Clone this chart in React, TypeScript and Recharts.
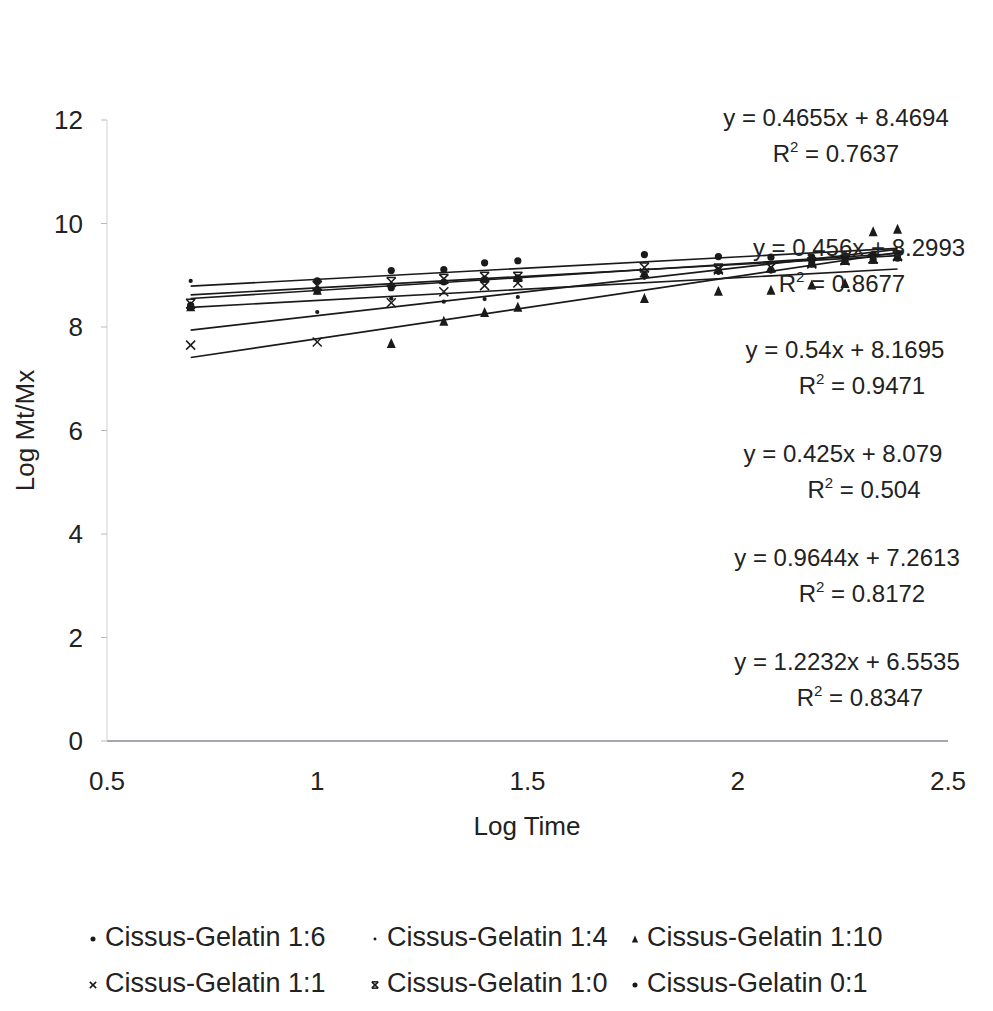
import React from 'react';
import { ScatterChart, Scatter, XAxis, YAxis, Legend } from 'recharts';

// log of sampling times (5 ... 240 min)
const logTime = [0.699, 1.0, 1.176, 1.301, 1.398, 1.477, 1.778, 1.954, 2.079, 2.176, 2.255, 2.322, 2.38];

const cg16 = [8.42, 8.89, 9.09, 9.11, 9.24, 9.28, 9.4, 9.36, 9.35, 9.35, 9.38, 9.4, 9.42];
const cg14 = [8.89, 8.29, 8.55, 8.49, 8.54, 8.58, 8.95, 9.05, 9.12, 9.2, 9.28, 9.3, 9.35];
const cg110 = [8.4, 8.72, 7.69, 8.12, 8.29, 8.39, 8.56, 8.7, 8.72, 8.82, 8.85, 9.85, 9.9];
const cg11 = [7.65, 7.71, 8.47, 8.68, 8.8, 8.85, 9.05, 9.1, 9.15, 9.22, 9.28, 9.32, 9.36];
const cg10 = [8.45, 8.8, 8.87, 8.93, 8.97, 8.97, 9.15, 9.13, 9.15, 9.25, 9.3, 9.32, 9.38];
const cg01 = [8.38, 8.7, 8.76, 8.87, 8.92, 8.95, 9.0, 9.08, 9.1, 9.22, 9.27, 9.3, 9.33];

const seriesNames = [
  'Cissus-Gelatin 1:6',
  'Cissus-Gelatin 1:4',
  'Cissus-Gelatin 1:10',
  'Cissus-Gelatin 1:1',
  'Cissus-Gelatin 1:0',
  'Cissus-Gelatin 0:1',
];
const seriesValues = [cg16, cg14, cg110, cg11, cg10, cg01];
const markers = ['dot', 'small', 'triangle', 'cross', 'star', 'dot'];

// trendline end points (x from 0.699 to 2.38)
const trendX = [0.699, 2.38];
const trendY = [
  [8.79, 9.52],
  [8.62, 9.38],
  [8.55, 9.42],
  [8.38, 9.12],
  [7.94, 9.5],
  [7.41, 9.44],
];

const equations = [
  { eq: 'y = 0.4655x + 8.4694', r2: '0.7637', y: 118, cx: 836, rcx: 836 },
  { eq: 'y = 0.456x + 8.2993', r2: '0.8677', y: 248, cx: 859, rcx: 842 },
  { eq: 'y = 0.54x + 8.1695', r2: '0.9471', y: 350, cx: 845, rcx: 862 },
  { eq: 'y = 0.425x + 8.079', r2: '0.504', y: 454, cx: 843, rcx: 864 },
  { eq: 'y = 0.9644x + 7.2613', r2: '0.8172', y: 558, cx: 847, rcx: 862 },
  { eq: 'y = 1.2232x + 6.5535', r2: '0.8347', y: 662, cx: 847, rcx: 860 },
];

const xTicks = [0.5, 1, 1.5, 2, 2.5];
const yTicks = [0, 2, 4, 6, 8, 10, 12];

const font = '"Liberation Sans", Arial, sans-serif';
const ink = '#1a1a1a';

const drawMarker = (kind: string, cx: number, cy: number, s = 1) => {
  switch (kind) {
    case 'dot':
      return <circle cx={cx} cy={cy} r={3.6 * s} fill={ink} />;
    case 'small':
      return <circle cx={cx} cy={cy} r={2.1 * s} fill={ink} />;
    case 'triangle': {
      const h = 10 * s;
      const w = 9 * s;
      return (
        <polygon
          points={`${cx},${cy - h / 2} ${cx - w / 2},${cy + h / 2} ${cx + w / 2},${cy + h / 2}`}
          fill={ink}
        />
      );
    }
    case 'cross': {
      const d = 4.5 * s;
      return (
        <g stroke={ink} strokeWidth={1.5}>
          <line x1={cx - d} y1={cy - d} x2={cx + d} y2={cy + d} />
          <line x1={cx - d} y1={cy + d} x2={cx + d} y2={cy - d} />
        </g>
      );
    }
    case 'star': {
      const d = 4.5 * s;
      return (
        <g stroke={ink} strokeWidth={1.5}>
          <line x1={cx - d} y1={cy - d} x2={cx + d} y2={cy + d} />
          <line x1={cx - d} y1={cy + d} x2={cx + d} y2={cy - d} />
          <line x1={cx - d} y1={cy - d} x2={cx + d} y2={cy - d} />
          <line x1={cx - d} y1={cy + d} x2={cx + d} y2={cy + d} />
        </g>
      );
    }
    default:
      return <g />;
  }
};

const renderLegend = (props: any) => {
  const items = (props.payload || []).filter((p: any) => seriesNames.includes(p.value));
  const colX = [85, 367, 627];
  return (
    <div style={{ position: 'relative', width: 993, height: 100, fontFamily: font, fontSize: 27, color: '#222' }}>
      {items.map((p: any) => {
        const i = seriesNames.indexOf(p.value);
        const col = i % 3;
        const row = Math.floor(i / 3);
        return (
          <div
            key={p.value}
            style={{ position: 'absolute', left: colX[col], top: row * 46, display: 'flex', alignItems: 'center', whiteSpace: 'nowrap' }}
          >
            <svg width={16} height={30}>
              {drawMarker(markers[i], 8, 16, 0.7)}
            </svg>
            <span style={{ marginLeft: 4 }}>{p.value}</span>
          </div>
        );
      })}
    </div>
  );
};

export default function App() {
  const pointSets = seriesValues.map((vals) => logTime.map((x, i) => ({ x, y: vals[i] })));
  const trendSets = trendY.map((ys) => trendX.map((x, i) => ({ x, y: ys[i] })));

  return (
    <div style={{ position: 'absolute', left: 0, top: 0, width: 993, height: 1011, background: '#fff', fontFamily: font }}>
      <ScatterChart width={993} height={1011} margin={{ top: 120, right: 45, bottom: 0, left: 0 }}>
        <XAxis
          type="number"
          dataKey="x"
          domain={[0.5, 2.5]}
          ticks={xTicks}
          height={270}
          tickLine={false}
          tickSize={6}
          tickMargin={25}
          axisLine={{ stroke: '#8a8a96', strokeWidth: 1.5 }}
          tick={{ fill: '#222', fontSize: 26, fontFamily: font }}
          allowDataOverflow
        />
        <YAxis
          type="number"
          dataKey="y"
          domain={[0, 12]}
          ticks={yTicks}
          width={107}
          tickSize={6}
          tickMargin={18}
          tickLine={{ stroke: '#bbb' }}
          axisLine={{ stroke: '#d0d0d0' }}
          tick={{ fill: '#222', fontSize: 26, fontFamily: font }}
          allowDataOverflow
        />
        {trendSets.map((d, i) => (
          <Scatter
            key={'t' + i}
            data={d}
            line={{ stroke: ink, strokeWidth: 1.6 }}
            shape={() => <g />}
            legendType="none"
            isAnimationActive={false}
          />
        ))}
        {pointSets.map((d, i) => (
          <Scatter
            key={seriesNames[i]}
            name={seriesNames[i]}
            data={d}
            fill={ink}
            shape={(p: any) => drawMarker(markers[i], p.cx, p.cy)}
            isAnimationActive={false}
          />
        ))}
        <Legend
          layout="horizontal"
          verticalAlign="middle"
          align="center"
          content={renderLegend}
          wrapperStyle={{ top: 922, left: 0, width: 993 }}
        />
      </ScatterChart>

      {/* axis titles */}
      <div style={{ position: 'absolute', left: 427, top: 811, width: 200, textAlign: 'center', fontSize: 26, color: '#222' }}>
        Log Time
      </div>
      <div
        style={{
          position: 'absolute',
          left: -75,
          top: 415,
          width: 200,
          textAlign: 'center',
          fontSize: 26,
          color: '#222',
          transform: 'rotate(-90deg)',
        }}
      >
        Log Mt/Mx
      </div>

      {/* trendline equations */}
      {equations.map((e) => (
        <React.Fragment key={e.eq}>
          <div style={{ position: 'absolute', left: e.cx - 160, top: e.y - 14, width: 320, textAlign: 'center', fontSize: 24, color: '#222', whiteSpace: 'nowrap' }}>
            {e.eq}
          </div>
          <div style={{ position: 'absolute', left: e.rcx - 160, top: e.y + 22, width: 320, textAlign: 'center', fontSize: 24, color: '#222', whiteSpace: 'nowrap' }}>
            R<span style={{ fontSize: 15, position: 'relative', top: -10 }}>2</span> = {e.r2}
          </div>
        </React.Fragment>
      ))}
    </div>
  );
}
